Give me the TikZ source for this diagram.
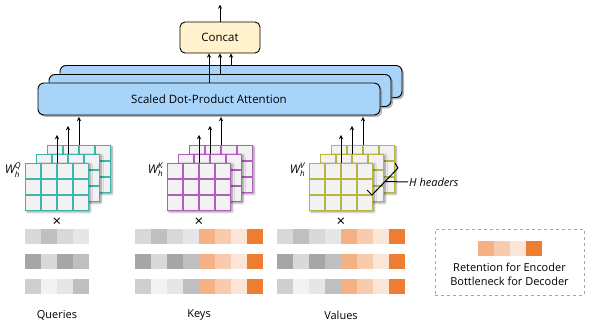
\documentclass[tikz,border=0pt]{standalone}
\usepackage{amsmath}
\usepackage{fontspec}
\setmainfont{Open Sans}
\usepackage{tikz}
\usetikzlibrary{arrows,shapes,positioning,calc,shadows,shadows.blur}
\definecolor{attblue}{RGB}{168,212,250}
\definecolor{catyellow}{RGB}{255,242,204}
\definecolor{cellgray}{RGB}{242,242,242}
\definecolor{qteal}{RGB}{62,180,172}
\definecolor{kpurple}{RGB}{178,92,192}
\definecolor{volive}{RGB}{184,180,64}
\definecolor{grayA}{RGB}{166,166,166}
\definecolor{grayB}{RGB}{191,191,191}
\definecolor{grayC}{RGB}{208,206,206}
\definecolor{grayD}{RGB}{217,217,217}
\definecolor{grayE}{RGB}{230,230,230}
\definecolor{grayF}{RGB}{242,242,242}
\definecolor{orA}{RGB}{244,177,131}
\definecolor{orB}{RGB}{248,203,173}
\definecolor{orC}{RGB}{251,229,214}
\definecolor{orD}{RGB}{237,125,49}
\newcommand{\matgrid}[2]{%
  \foreach \i in {1,2,3}
    \draw[#2, line width=1.1pt] ($(#1.north west)!\i/4!(#1.north east)$) -- ($(#1.south west)!\i/4!(#1.south east)$);
  \foreach \j in {1,2}
    \draw[#2, line width=1.1pt] ($(#1.north west)!\j/3!(#1.south west)$) -- ($(#1.north east)!\j/3!(#1.south east)$);
}

\begin{document}
\begin{tikzpicture}[
    x=1pt, y=-1pt,
    attbox/.style={rectangle, rounded corners=6pt, draw=black, line width=0.9pt, fill=attblue, minimum width=342pt, minimum height=32pt, inner sep=0pt, font=\fontsize{11.5}{13}\selectfont, drop shadow={shadow xshift=2pt, shadow yshift=-2pt, opacity=0.6}},
    catbox/.style={rectangle, rounded corners=5pt, draw=black, line width=0.9pt, fill=catyellow, minimum width=80pt, minimum height=31pt, inner sep=0pt, font=\fontsize{11.5}{13}\selectfont},
    mat/.style={rectangle, draw=#1, line width=1.1pt, fill=cellgray, minimum width=63pt, minimum height=47pt, inner sep=0pt, blur shadow={shadow xshift=1.5pt, shadow yshift=-1.5pt, shadow blur radius=2pt, shadow opacity=45}},
    wlab/.style={inner sep=0.5pt, font=\fontsize{12}{14}\selectfont},
    lab/.style={inner sep=1pt, align=center, font=\fontsize{11}{13.5}\selectfont},
    cross/.style={inner sep=0pt, font=\fontsize{15}{15}\selectfont},
    legbox/.style={rectangle, draw=gray!70, dashed, line width=0.8pt, minimum width=149pt, minimum height=66pt},
    arr/.style={->, line width=0.9pt},
    brace/.style={line width=1pt},
    >=stealth
]
\useasboundingbox (0,0) rectangle (592,328);

% --- Attention heads ---
\node[attbox] (att3) at (231,81.5) {};
\node[attbox] (att2) at (220,90.5) {};
\node[attbox] (att1) at (209,99) {Scaled Dot-Product Attention};

\node[catbox] (cat) at (220,37.5) {Concat};

\foreach \k in {1,2,3}
  \draw[arr] (att\k.north) -- (att\k.north |- cat.south);
\draw[arr] (cat.north) -- ++(0,-17);

% --- Projection matrices ---
\foreach \m/\cx/\col in {q/57/qteal, k/199/kpurple, v/341/volive}{
  \foreach \k in {3,2,1}{
    \node[mat=\col] (m\m\k) at ({\cx+11*(\k-1)},{187-9*(\k-1)}) {};
    \matgrid{m\m\k}{\col}
  }
}
\foreach \m in {q,k,v}
  \foreach \k in {1,2,3}
    \draw[arr] (m\m\k.north) -- ++(0,-28);

\node[wlab, anchor=north east] (wq) at ([xshift=-3pt, yshift=1pt]mq1.north west) {$\textit{W}_{\textit{h}}^{\textit{Q}}$};
\node[wlab, anchor=north east] (wk) at ([xshift=-3pt, yshift=1pt]mk1.north west) {$\textit{W}_{\textit{h}}^{\textit{K}}$};
\node[wlab, anchor=north east] (wv) at ([xshift=-3pt, yshift=1pt]mv1.north west) {$\textit{W}_{\textit{h}}^{\textit{V}}$};

% H headers bracket
\coordinate (hb1) at (367,190);
\coordinate (hb2) at (372,195);
\coordinate (hb3) at (398,168);
\coordinate (hb4) at (395,163);
\draw[brace] (hb1) -- (hb2) -- (hb3) -- (hb4);
\coordinate (hbm) at ($(hb2)!0.5!(hb3)$);
\node[lab, anchor=west, font=\fontsize{11}{13}\selectfont\itshape] (hh) at (408,182) {H headers};
\draw[brace] (hbm) -- (hh.west);

% --- Inputs ---
\node[cross] (xq) at ([yshift=-11.5pt]mq1.south) {×};
\node[cross] (xk) at ([yshift=-11.5pt]mk1.south) {×};
\node[cross] (xv) at ([yshift=-11.5pt]mv1.south) {×};

\foreach \bx/\wide in {25/0, 135/1, 277/1}{
  \foreach \by/\cols in {229/{grayD,grayB,grayD,grayE}, 254/{grayA,grayD,grayA,grayB}, 279/{grayC,grayF,grayE,grayB}}{
    \foreach \c [count=\i from 0] in \cols
      \fill[\c] ({\bx+16*\i},\by) rectangle ++(16,15.5);
    \ifnum\wide=1
      \foreach \c [count=\i from 4] in {orA,orB,orC,orD}
        \fill[\c] ({\bx+16*\i},\by) rectangle ++(16,15.5);
    \fi
  }
}

\node[lab] (lq) at (57,315) {Queries};
\node[lab] (lk) at (199,315) {Keys};
\node[lab] (lv) at (341,315) {Values};

% --- Legend ---
\node[legbox] (leg) at (509.5,262) {};
\foreach \c [count=\i from 0] in {orA,orB,orC,orD}
  \fill[\c] ($(leg.north west)+({43+16*\i},12)$) rectangle ++(16,15.5);
\node[lab] (legtxt) at ([yshift=-12.5pt]leg.center) {Retention for Encoder\\Bottleneck for Decoder};

\end{tikzpicture}
\end{document}
